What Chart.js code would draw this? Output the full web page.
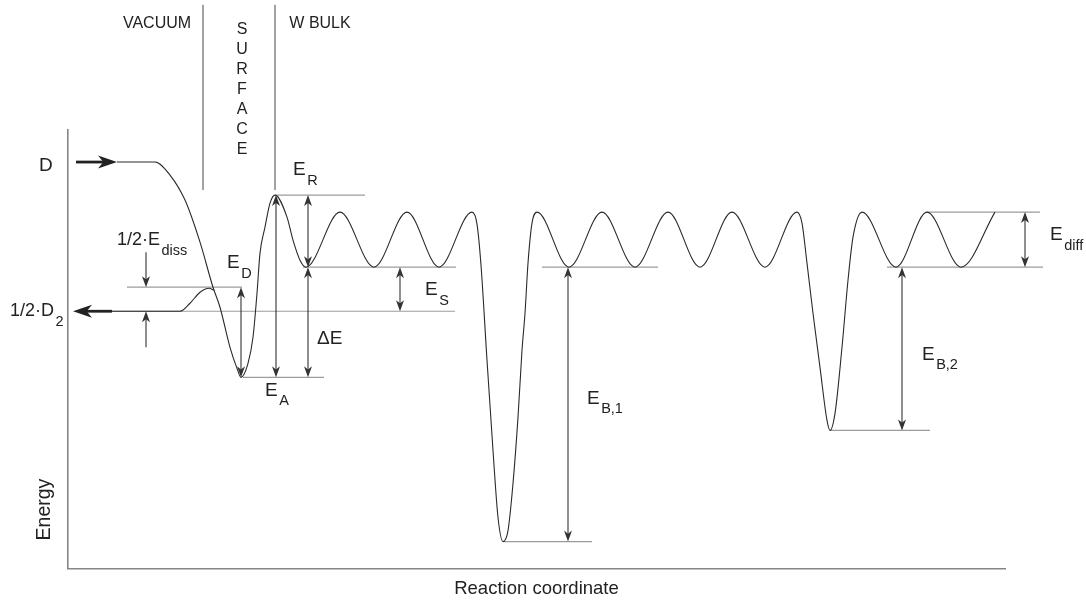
<!DOCTYPE html>
<html>
<head>
<meta charset="utf-8">
<script src="https://cdn.jsdelivr.net/npm/chart.js@4"></script>
<style>
html, body { margin: 0; padding: 0; background: #fff; }
</style>
</head>
<body>
<canvas id="energyChart" width="1086" height="604"></canvas>
<script>
// potential energy path (x: reaction coordinate, y: energy, arbitrary units)
var pathX = [4.9, 8.7, 10.2, 11.7, 13.2, 14.5, 15.2, 16.2, 16.9, 17.3,
  18.0, 18.5, 18.9, 19.2, 19.7, 20.2, 20.7, 21.9, 22.5, 23.2, 23.8,
  27.2, 30.6, 33.9, 37.1, 40.4,
  40.9, 41.3, 41.9, 42.5, 43.0, 43.5, 44.0, 44.5, 45.0, 45.4, 45.7, 46.0, 46.4, 46.9,
  50.1, 53.4, 56.7, 60.0, 63.2, 66.4, 69.7, 72.9,
  73.4, 73.9, 74.5, 75.2, 75.9, 76.2, 76.7, 77.4, 78.0, 78.5, 79.4,
  82.8, 85.9, 89.3, 92.7];
var pathE = [40.6, 40.6, 39.3, 36.8, 32.6, 28.1, 26.1, 22.1, 20.0, 19.1,
  20.5, 23.1, 27.5, 31.5, 34.1, 36.5, 37.3, 35.1, 32.8, 30.8, 30.1,
  35.6, 30.1, 35.6, 30.1, 35.6,
  34.4, 30.3, 20.8, 11.8, 5.1, 2.7, 3.8, 8.5, 15.1, 21.8, 25.5, 30.5, 34.5, 35.6,
  30.1, 35.6, 30.1, 35.6, 30.1, 35.6, 30.1, 35.6,
  34.5, 30.5, 25.5, 20.1, 14.8, 13.8, 15.5, 22.1, 28.8, 33.1, 35.6,
  30.1, 35.6, 30.1, 35.6];

// molecular D2 branch
var d2X = [4.4, 11.2, 12.2, 13.2, 14.1, 14.6];
var d2E = [25.7, 25.7, 26.5, 27.6, 28.0, 27.8];

// reference levels: [energy, x from, x to]
var levels = [[37.3, 20.7, 29.7], [30.1, 23.5, 38.8], [19.1, 17.5, 25.6], [28.1, 5.9, 17.4],
  [25.7, 4.4, 38.7], [30.1, 47.4, 59.0], [2.7, 43.5, 52.4], [30.1, 81.9, 97.5],
  [35.6, 85.9, 97.2], [13.8, 76.2, 86.2]];

// double arrows: [x, energy low, energy high]
var gaps = [[17.3, 19.1, 28.1], [20.8, 19.1, 37.3], [24.0, 30.1, 37.3], [24.0, 19.1, 30.1],
  [33.2, 25.7, 30.1], [50.0, 2.7, 30.1], [83.4, 13.8, 30.1], [95.7, 30.1, 35.6]];

// single arrows: [x, energy from, energy to]
var pointers = [[7.8, 31.6, 28.1], [7.8, 22.1, 25.7]];

// bold arrows: [x from, x to, energy]
var bold = [[0.8, 4.9, 40.6], [4.4, 0.5, 25.7]];

// region separators: [x, energy low, energy high]
var regions = [[13.5, 37.8, 56.3], [20.7, 37.8, 56.3]];

// labels: [text, subscript, x, energy]
var labels = [['D', '', -2.9, 40.2], ['1/2\u00b7D', '2', -5.8, 25.7], ['1/2\u00b7E', 'diss', 4.9, 32.8],
  ['E', 'D', 15.9, 30.5], ['E', 'R', 22.5, 39.8], ['E', 'A', 19.7, 17.8], ['\u0394E', '', 24.9, 23.0],
  ['E', 'S', 35.7, 27.8], ['E', 'B,1', 51.9, 17.0], ['E', 'B,2', 85.4, 21.4], ['E', 'diff', 98.2, 33.3]];

var zones = [['VACUUM', 8.9, 54.4], ['W BULK', 25.2, 54.4]];
var surface = 'SURFACE';

var FONT = '"Liberation Sans", Arial, Helvetica, sans-serif';

function toPoints(xs, es) {
  return xs.map(function (v, i) { return { x: v, y: es[i] }; });
}

function head(ctx, px, py, dx, dy, len, w) {
  var bx = px - dx * len, by = py - dy * len;
  var nx = -dy, ny = dx;
  ctx.beginPath();
  ctx.moveTo(px, py);
  ctx.lineTo(bx + nx * w, by + ny * w);
  ctx.lineTo(px - dx * len * 0.72, py - dy * len * 0.72);
  ctx.lineTo(bx - nx * w, by - ny * w);
  ctx.closePath();
  ctx.fill();
}

var annotations = {
  id: 'annotations',
  beforeDatasetsDraw: function (chart) {
    var ctx = chart.ctx, sx = chart.scales.x, sy = chart.scales.y;
    ctx.save();
    ctx.strokeStyle = '#9c9c9c';
    ctx.lineWidth = 1.2;
    levels.forEach(function (l) {
      var py = sy.getPixelForValue(l[0]);
      ctx.beginPath();
      ctx.moveTo(sx.getPixelForValue(l[1]), py);
      ctx.lineTo(sx.getPixelForValue(l[2]), py);
      ctx.stroke();
    });
    ctx.strokeStyle = '#666';
    regions.forEach(function (r) {
      var px = sx.getPixelForValue(r[0]);
      ctx.beginPath();
      ctx.moveTo(px, sy.getPixelForValue(r[1]));
      ctx.lineTo(px, sy.getPixelForValue(r[2]));
      ctx.stroke();
    });
    ctx.restore();
  },
  afterDatasetsDraw: function (chart) {
    var ctx = chart.ctx, sx = chart.scales.x, sy = chart.scales.y;
    ctx.save();
    ctx.strokeStyle = '#333';
    ctx.fillStyle = '#333';
    ctx.lineWidth = 1.1;

    gaps.forEach(function (g) {
      var px = sx.getPixelForValue(g[0]);
      var lo = sy.getPixelForValue(g[1]), hi = sy.getPixelForValue(g[2]);
      ctx.beginPath();
      ctx.moveTo(px, lo - 4);
      ctx.lineTo(px, hi + 4);
      ctx.stroke();
      head(ctx, px, lo, 0, 1, 11, 4);
      head(ctx, px, hi, 0, -1, 11, 4);
    });

    pointers.forEach(function (p) {
      var px = sx.getPixelForValue(p[0]);
      var a = sy.getPixelForValue(p[1]), b = sy.getPixelForValue(p[2]);
      var d = b > a ? 1 : -1;
      ctx.beginPath();
      ctx.moveTo(px, a);
      ctx.lineTo(px, b - d * 4);
      ctx.stroke();
      head(ctx, px, b, 0, d, 11, 4);
    });

    ctx.lineWidth = 2.8;
    ctx.strokeStyle = '#222';
    ctx.fillStyle = '#222';
    bold.forEach(function (b) {
      var a = sx.getPixelForValue(b[0]), t = sx.getPixelForValue(b[1]);
      var py = sy.getPixelForValue(b[2]);
      var d = t > a ? 1 : -1;
      ctx.beginPath();
      ctx.moveTo(a, py);
      ctx.lineTo(t - d * 10, py);
      ctx.stroke();
      head(ctx, t, py, d, 0, 19, 6.5);
    });

    // texts
    ctx.fillStyle = '#222';
    ctx.textBaseline = 'middle';
    labels.forEach(function (l) {
      var px = sx.getPixelForValue(l[2]), py = sy.getPixelForValue(l[3]);
      var big = l[0].length > 2 ? 18 : 19;
      ctx.font = big + 'px ' + FONT;
      ctx.textAlign = 'left';
      ctx.fillText(l[0], px, py);
      if (l[1]) {
        var w = ctx.measureText(l[0]).width;
        ctx.font = '14.5px ' + FONT;
        ctx.fillText(l[1], px + w + 1.5, py + 10.5);
      }
    });

    ctx.font = '16px ' + FONT;
    ctx.textAlign = 'center';
    zones.forEach(function (z) {
      ctx.fillText(z[0], sx.getPixelForValue(z[1]), sy.getPixelForValue(z[2]));
    });
    surface.split('').forEach(function (c, i) {
      ctx.fillText(c, sx.getPixelForValue(17.4), sy.getPixelForValue(53.8 - i * 2.0));
    });

    // y axis title
    ctx.font = '19.5px ' + FONT;
    ctx.translate(sx.getPixelForValue(-2.3), sy.getPixelForValue(5.9));
    ctx.rotate(-Math.PI / 2);
    ctx.fillText('Energy', 0, 0);
    ctx.restore();
  }
};

var ctx = document.getElementById('energyChart').getContext('2d');
var energyChart = new Chart(ctx, {
  type: 'line',
  data: {
    datasets: [{
      data: toPoints(pathX, pathE),
      borderColor: '#2a2a2a',
      borderWidth: 1.1,
      pointRadius: 0,
      cubicInterpolationMode: 'monotone',
      fill: false
    }, {
      data: toPoints(d2X, d2E),
      borderColor: '#2a2a2a',
      borderWidth: 1.1,
      pointRadius: 0,
      cubicInterpolationMode: 'monotone',
      fill: false
    }]
  },
  options: {
    responsive: false,
    animation: false,
    events: [],
    layout: { padding: { left: 68, top: 130, right: 81, bottom: 3.6 } },
    plugins: { legend: { display: false }, tooltip: { enabled: false } },
    scales: {
      x: {
        type: 'linear',
        min: 0,
        max: 93.7,
        grid: { display: false, drawTicks: false },
        border: { display: true, color: '#858585', width: 1.6 },
        ticks: { display: false },
        title: {
          display: true,
          text: 'Reaction coordinate',
          color: '#222',
          font: { family: FONT, size: 18.5, lineHeight: 1.2 },
          padding: { top: 9.6, bottom: 0 }
        }
      },
      y: {
        min: 0,
        max: 43.8,
        grid: { display: false, drawTicks: false },
        border: { display: true, color: '#858585', width: 1.6 },
        ticks: { display: false }
      }
    }
  },
  plugins: [annotations]
});
</script>
</body>
</html>
